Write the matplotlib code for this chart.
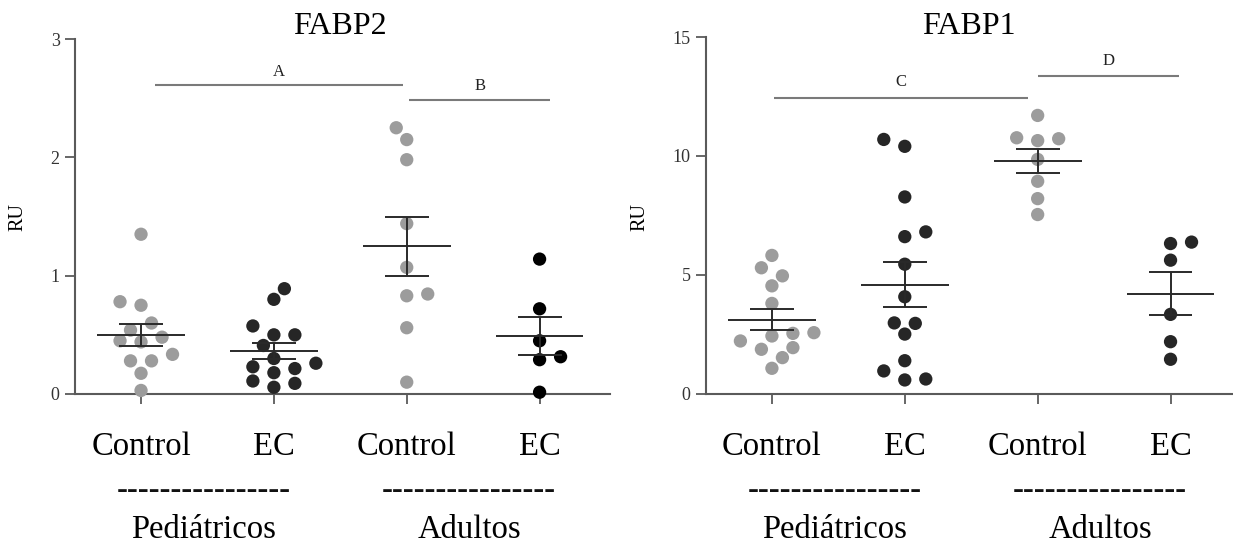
import numpy as np
import matplotlib
matplotlib.use('Agg')
import matplotlib.pyplot as plt
from matplotlib.transforms import blended_transform_factory

plt.rcParams['font.family'] = ['Liberation Serif', 'DejaVu Serif']

# ---------------- data ----------------
categories = ['Control', 'EC', 'Control', 'EC']
age_groups = ['Pediátricos', 'Adultos']
titles = ['FABP2', 'FABP1']
y_label = 'RU'

fabp2_ped_control = [1.35, 0.78, 0.75, 0.60, 0.54, 0.48, 0.44, 0.45, 0.28, 0.28, 0.335, 0.175, 0.03]
fabp2_ped_ec = [0.89, 0.80, 0.575, 0.50, 0.50, 0.41, 0.30, 0.26, 0.215, 0.23, 0.18, 0.11, 0.09, 0.057]
fabp2_adu_control = [2.25, 2.15, 1.98, 1.44, 1.07, 0.83, 0.845, 0.56, 0.10]
fabp2_adu_ec = [1.14, 0.72, 0.45, 0.315, 0.29, 0.015]

fabp1_ped_control = [5.81, 5.29, 4.95, 4.53, 3.79, 2.56, 2.42, 2.53, 2.21, 1.93, 1.86, 1.51, 1.06]
fabp1_ped_ec = [10.69, 10.40, 8.27, 6.80, 6.60, 5.44, 4.07, 2.95, 2.97, 2.50, 1.38, 0.95, 0.57, 0.61]
fabp1_adu_control = [11.70, 10.72, 10.76, 10.64, 9.85, 8.93, 8.20, 7.53]
fabp1_adu_ec = [6.37, 6.31, 5.61, 3.33, 2.18, 1.44]

fabp2_ticks = [0, 1, 2, 3]
fabp1_ticks = [0, 5, 10, 15]
sig_labels = [['A', 'B'], ['C', 'D']]

# ---------------- styling ----------------
W, H = 1233, 546
GRAY = '#9c9c9c'
DARK = '#262626'
BLACK = '#000000'
AXC = '#5a5a5a'
LINEC = '#2a2a2a'
SIGC = '#7a7a7a'
MARKER_PX = 13.3

fig = plt.figure(figsize=(W / 100, H / 100), dpi=100)


def px_axes(x0, y_top, x1, y_bot):
    return fig.add_axes([x0 / W, (H - y_bot) / H, (x1 - x0) / W, (y_bot - y_top) / H])


def swarm_offsets(ax, values, step=10.5, dmin=14.0):
    """Grid-based beeswarm offsets (data x units), computed in pixel space."""
    t = ax.transData
    sx = t.transform((1, 0))[0] - t.transform((0, 0))[0]
    sy = t.transform((0, 1))[1] - t.transform((0, 0))[1]
    ys = np.asarray(values, float) * sy
    xs = np.zeros(len(ys))
    placed = []
    flip = 1
    for i in np.argsort(ys):
        y = ys[i]
        chosen = None
        for k in range(0, 20):
            opts = [0.0] if k == 0 else [flip * k * step, -flip * k * step]
            for c in opts:
                if all((c - px) ** 2 + (y - py) ** 2 >= dmin ** 2 for px, py in placed):
                    chosen = c
                    break
            if chosen is not None:
                break
        if chosen != 0:
            flip = -flip
        placed.append((chosen, y))
        xs[i] = chosen
    return xs / sx


def draw_panel(ax, groups, colors, ylim, ticks, xlim):
    ax.set_xlim(*xlim)
    ax.set_ylim(*ylim)
    for s in ['top', 'right']:
        ax.spines[s].set_visible(False)
    for s in ['left', 'bottom']:
        ax.spines[s].set_color(AXC)
        ax.spines[s].set_linewidth(1.5)
    ax.set_yticks(ticks)
    ax.set_yticklabels([str(t) for t in ticks], fontsize=13, color='#333333')
    ax.set_xticks(range(len(groups)))
    ax.set_xticklabels([''] * len(groups))
    ax.tick_params(axis='both', color=AXC, width=1.3, length=7)
    ax.tick_params(axis='y', pad=4)
    for i, (vals, col) in enumerate(zip(groups, colors)):
        off = swarm_offsets(ax, vals)
        ax.scatter(i + off, vals, s=(MARKER_PX * 0.72) ** 2, color=col,
                   edgecolors='none', zorder=3, clip_on=False)
        v = np.asarray(vals, float)
        m = v.mean()
        sem = v.std(ddof=1) / np.sqrt(len(v))
        ax.hlines(m, i - 0.33, i + 0.33, color=LINEC, lw=1.4, zorder=4)
        ax.hlines([m - sem, m + sem], i - 0.165, i + 0.165, color=LINEC, lw=1.4, zorder=4)
        ax.vlines(i, m - sem, m + sem, color=LINEC, lw=1.4, zorder=4)


ax1 = px_axes(75, 39, 610, 394)
draw_panel(ax1, [fabp2_ped_control, fabp2_ped_ec, fabp2_adu_control, fabp2_adu_ec],
           [GRAY, DARK, GRAY, BLACK], (0, 3), fabp2_ticks, (-0.497, 3.53))
ax2 = px_axes(706, 37, 1233, 393.5)
draw_panel(ax2, [fabp1_ped_control, fabp1_ped_ec, fabp1_adu_control, fabp1_adu_ec],
           [GRAY, DARK, GRAY, DARK], (0, 15), fabp1_ticks, (-0.496, 3.47))

# titles
fig.text(340 / W, (H - 27) / H, titles[0], fontsize=23, ha='center', va='center')
fig.text(969 / W, (H - 27) / H, titles[1], fontsize=23, ha='center', va='center')

# y labels
fig.text(18 / W, (H - 217) / H, y_label, fontsize=14.5, rotation=90, ha='center', va='center')
fig.text(640 / W, (H - 217) / H, y_label, fontsize=14.5, rotation=90, ha='center', va='center')


# significance bars
def sig(ax, x0, x1, y, label, ly):
    ax.plot([x0, x1], [y, y], color=SIGC, lw=1.5, clip_on=False, solid_capstyle='butt')
    ax.text((x0 + x1) / 2, ly, label, fontsize=12, ha='center', va='center', color='#222222')


sig(ax1, 0.105, 1.974, 2.61, sig_labels[0][0], 2.72)
sig(ax1, 2.02, 3.08, 2.485, sig_labels[0][1], 2.60)
sig(ax2, 0.015, 1.93, 12.42, sig_labels[1][0], 13.09)
sig(ax2, 2.0, 3.06, 13.34, sig_labels[1][1], 13.97)

# category / group labels below axes
for ax in (ax1, ax2):
    tr = blended_transform_factory(ax.transData, fig.transFigure)
    for i, c in enumerate(categories):
        ax.text(i, (H - 455) / H, c, transform=tr, fontsize=23.5, ha='center', va='baseline')
    for j, g in enumerate(age_groups):
        xc = 2 * j + 0.5
        ax.text(xc - 0.03, (H - 499) / H, '-' * 16, transform=tr, fontsize=23.5,
                ha='center', va='baseline', color='#111111')
        ax.text(xc - 0.03, (H - 538) / H, g, transform=tr, fontsize=23.5,
                ha='center', va='baseline')

fig.savefig('out.png', dpi=100)
